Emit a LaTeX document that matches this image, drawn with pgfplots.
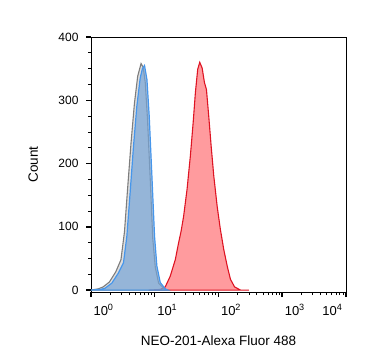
\documentclass[border=0pt]{standalone}
\usepackage{fontspec}
\setmainfont{Liberation Sans}
\usepackage{pgfplots}
\pgfplotsset{compat=1.18}
\definecolor{bluefill}{RGB}{118,164,214}
\definecolor{blueline}{RGB}{70,150,235}
\definecolor{grayline}{RGB}{125,125,125}
\definecolor{redfill}{RGB}{255,108,112}
\definecolor{redline}{RGB}{222,20,35}
\begin{document}
\begin{tikzpicture}
\useasboundingbox (-91pt,-72pt) rectangle (276pt,292pt);
\begin{axis}[
  at={(0,0)}, anchor=south west,
  scale only axis, width=255pt, height=255pt,
  xmode=log, xmin=1, xmax=10000,
  ymin=-3, ymax=400,
  axis line style={line width=0.9pt},
  tick align=outside,
  xtick pos=bottom, ytick pos=left,
  xtick={1,10,100,1000},
  xticklabels={{10\textsuperscript{0}},{10\textsuperscript{1}},{10\textsuperscript{2}},{10\textsuperscript{3}}},
  extra x ticks={10000},
  extra x tick labels={{10\textsuperscript{4}}},
  extra x tick style={xticklabel style={anchor=north east, xshift=1pt}},
  minor xtick={2,3,...,9,20,30,...,90,200,300,...,900,2000,3000,...,9000},
  ytick={0,100,200,300,400},
  minor ytick={25,50,75,125,150,175,225,250,275,325,350,375},
  major tick length=5pt, minor tick length=3pt,
  every major tick/.append style={line width=1.5pt, black},
  every minor tick/.append style={line width=0.8pt, black},
  xticklabel style={font=\fontsize{13}{13}\selectfont, anchor=north west, xshift=-1pt, yshift=-4pt},
  yticklabel style={font=\fontsize{12}{12}\selectfont, xshift=-4pt},
  /pgf/number format/assume math mode=true,
  xlabel={NEO-201-Alexa Fluor 488},
  ylabel={Count},
  xlabel style={font=\fontsize{13.5}{13.5}\selectfont, at={(axis description cs:0.5,-0.208)}, anchor=base},
  ylabel style={font=\fontsize{13.5}{13.5}\selectfont, at={(axis description cs:-0.208,0.5)}, anchor=base},
  clip=true,
]
% stained (red)
\addplot[draw=redline, line width=1.1pt, fill=redfill, fill opacity=0.68] coordinates {
(8,0) (12.2,1) (14.6,5) (17.5,22) (21.0,48) (23.7,75) (25.9,93) (28.4,117) (32.1,159) (36.2,212) (40.0,264) (43.4,312) (47.2,349) (50.8,360) (55.4,351) (60.2,328) (64.7,317) (70.3,275) (76.8,227) (84.4,180) (95.4,132) (107,96) (121,64) (137,38) (154,17) (179,5) (222,0) (300,0)
} --cycle;
% unstained control (gray)
\addplot[draw=grayline, line width=1.1pt, fill=grayline, fill opacity=0.25] coordinates {
(1.0,0) (1.3,2) (1.55,5) (1.95,13) (2.45,29) (2.95,48) (3.35,92) (3.75,160) (4.25,233) (4.8,295) (5.4,338) (6.1,358) (6.6,352) (7.1,328) (7.7,270) (8.5,175) (9.3,82) (10.2,36) (11.5,11) (14,2) (16,0)
} --cycle;
% isotype (blue)
\addplot[draw=blueline, line width=1.2pt, fill=bluefill, fill opacity=0.7] coordinates {
(1.0,0) (1.4,1) (1.66,3) (2.12,11) (2.69,27) (3.23,43) (3.65,85) (4.11,154) (4.64,227) (5.24,291) (5.91,335) (6.4,350) (6.91,355) (7.54,333) (8.19,275) (9.03,180) (9.93,85) (10.8,38) (12.2,12) (14.6,2) (16,0)
} --cycle;
\end{axis}
\end{tikzpicture}
\end{document}
